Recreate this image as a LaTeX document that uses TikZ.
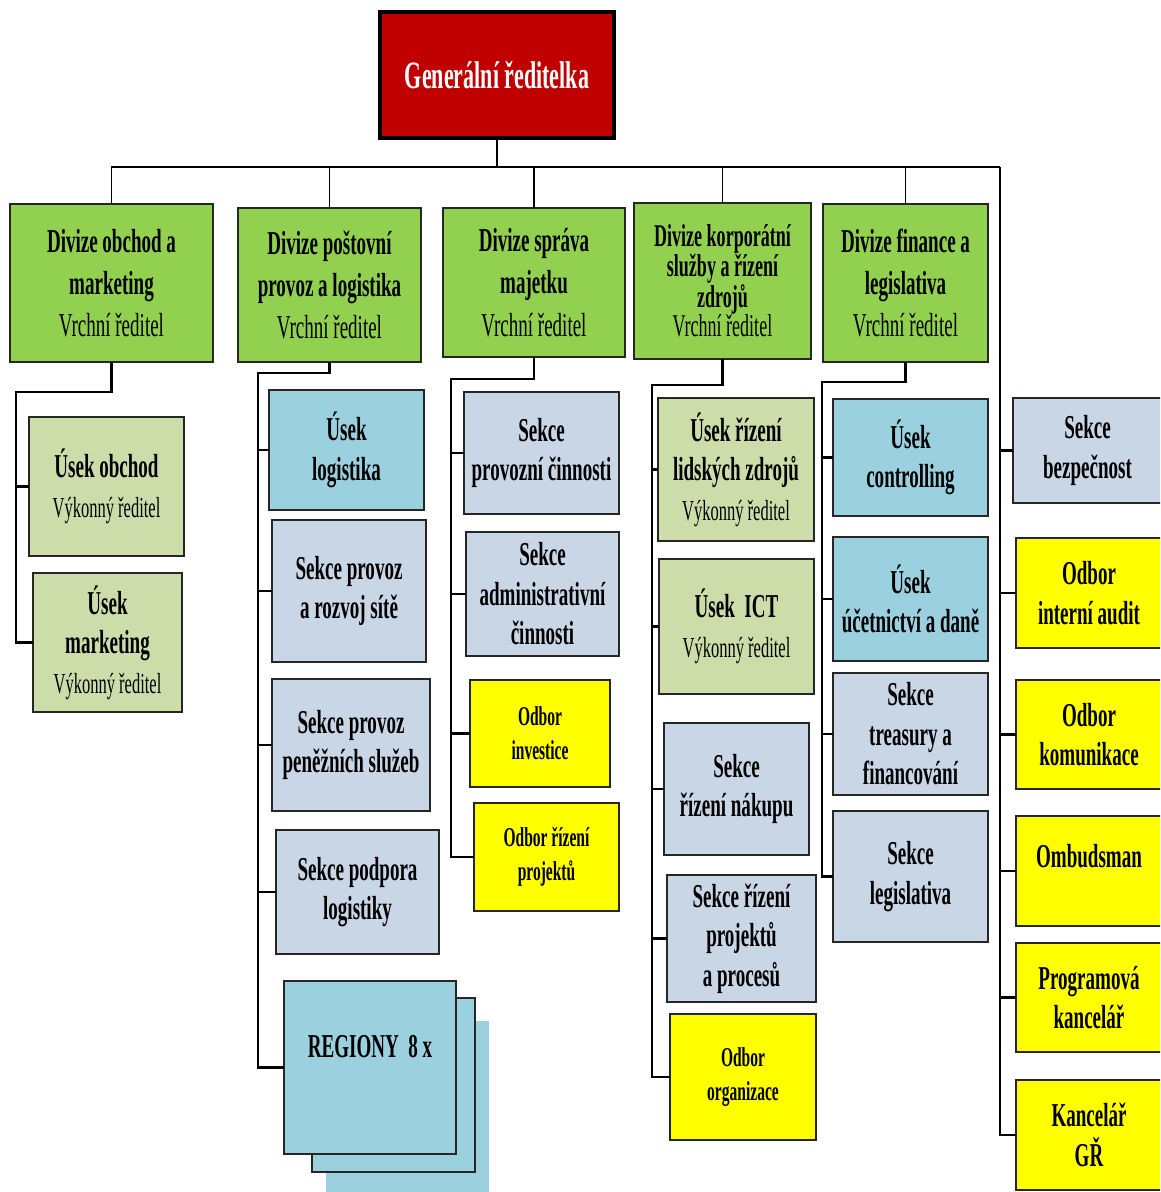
\documentclass[tikz,border=0pt]{standalone}
\usepackage{fontspec}
\setmainfont{Liberation Serif}[FakeStretch=0.57]
\usetikzlibrary{calc}

\definecolor{grred}{RGB}{192,0,0}
\definecolor{divgreen}{RGB}{146,208,80}
\definecolor{usekolive}{RGB}{205,221,170}
\definecolor{usekblue}{RGB}{155,208,222}
\definecolor{sekcegrey}{RGB}{200,214,230}
\definecolor{odboryellow}{RGB}{255,255,0}

\newcommand{\vrchni}{{\mdseries Vrchní ředitel}}
\newcommand{\vykonny}{{\fontsize{16.5}{20}\selectfont\mdseries Výkonný ředitel}}

\begin{document}
\begin{tikzpicture}[x=0.02cm, y=-0.02cm,
    box/.style={draw=black!85, line width=1pt, inner sep=1pt, outer sep=0pt, align=center,
        font=\fontsize{19}{22.5}\selectfont\bfseries},
    wh/.style 2 args={minimum width=#1*0.02cm, minimum height=#2*0.02cm},
    headbox/.style={box, fill=grred, draw=black, line width=2.4pt, text=white,
        font=\fontsize{22}{26}\selectfont\bfseries},
    divbox/.style={box, fill=divgreen, font=\fontsize{19}{24}\selectfont\bfseries},
    usek/.style={box, fill=usekolive},
    usekb/.style={box, fill=usekblue},
    sekce/.style={box, fill=sekcegrey},
    odbor/.style={box, fill=odboryellow},
    smallfont/.style={font=\fontsize{15.5}{19.5}\selectfont\bfseries},
    bus/.style={line width=1.6pt},
    drop/.style={line width=0.8pt},
    link/.style={line width=1.2pt}
]
\clip (0,0) rectangle (1160,1192);

% vedeni
\node[headbox, wh={234}{126}] (gr) at (497,75) {Generální ředitelka};

\node[divbox, wh={203}{158}] (d1) at (111.5,283) {Divize obchod a\\marketing\\\vrchni};
\node[divbox, wh={183}{154}] (d2) at (329.5,285) {Divize poštovní\\provoz a logistika\\\vrchni};
\node[divbox, wh={182}{149}] (d3) at (534,282.5) {Divize správa\\majetku\\\vrchni};
\node[divbox, wh={177}{156}, font=\fontsize{18}{16}\selectfont\bfseries] (d4) at (722.5,281)
    {Divize korporátní\\[-0.5pt]služby a řízení\\[-0.5pt]zdrojů\\[-0.5pt]\vrchni};
\node[divbox, wh={165}{158}] (d5) at (905.5,283) {Divize finance a\\legislativa\\\vrchni};

% divize obchod a marketing
\node[usek, wh={155}{139}] (uo) at (106.5,486.5) {Úsek obchod\\\vykonny};
\node[usek, wh={149}{139}] (um) at (107.5,642.5) {Úsek\\marketing\\\vykonny};

% divize postovni provoz a logistika
\node[usekb, wh={155}{120}] (ul) at (346.5,450) {Úsek\\logistika};
\node[sekce, wh={154}{142}] (spr) at (349,591) {Sekce provoz\\a rozvoj sítě};
\node[sekce, wh={158}{132}] (sps) at (351,745) {Sekce provoz\\peněžních služeb};
\node[sekce, wh={163}{124}] (spl) at (357.5,892) {Sekce podpora\\logistiky};
\node[usekb, draw=none, wh={163}{179}] (reg3) at (407.5,1110.5) {};
\node[usekb, wh={163}{174}] (reg2) at (393.5,1085) {};
\node[usekb, wh={172}{173}, text height=0.42cm, text depth=0.84cm] (reg) at (370,1067.5) {REGIONY\ \ 8 x};

% divize sprava majetku
\node[sekce, wh={155}{122}] (spc) at (541.5,453) {Sekce\\provozní činnosti};
\node[sekce, wh={153}{124}] (sac) at (542.5,594) {Sekce\\administrativní\\činnosti};
\node[odbor, smallfont, wh={140}{107}] (oi) at (540,733.5) {Odbor\\investice};
\node[odbor, smallfont, wh={145}{108}] (orp) at (546.5,857) {Odbor řízení\\projektů};

% divize korporatni sluzby
\node[usek, wh={156}{143}] (ulz) at (736,469.5) {Úsek řízení\\lidských zdrojů\\\vykonny};
\node[usek, wh={155}{135}] (uict) at (736.5,626.5) {Úsek\ \ ICT\\\vykonny};
\node[sekce, wh={145}{132}] (srn) at (736.5,789) {Sekce\\řízení nákupu};
\node[sekce, wh={149}{127}] (srp) at (741.5,938.5) {Sekce řízení\\projektů\\a procesů};
\node[odbor, smallfont, wh={146}{126}] (oo) at (743,1077) {Odbor\\organizace};

% divize finance a legislativa
\node[usekb, wh={155}{117}] (uc) at (910.5,457.5) {Úsek\\controlling};
\node[usekb, wh={155}{124}] (uud) at (910.5,599) {Úsek\\účetnictví a daně};
\node[sekce, wh={155}{122}] (stf) at (910.5,734) {Sekce\\treasury a\\financování};
\node[sekce, wh={155}{131}] (sl) at (910.5,876.5) {Sekce\\legislativa};

% primo pod GR
\node[sekce, wh={149}{105}] (sb) at (1087.5,450.5) {Sekce\\bezpečnost};
\node[odbor, wh={146}{110}] (oia) at (1089,593) {Odbor\\interní audit};
\node[odbor, wh={146}{109}] (ok) at (1089,734.5) {Odbor\\komunikace};
\node[odbor, wh={146}{110}, text height=0.42cm, text depth=0.58cm] (omb) at (1089,871) {Ombudsman};
\node[odbor, wh={146}{109}] (pk) at (1089,997.5) {Programová\\kancelář};
\node[odbor, wh={146}{110}] (kgr) at (1089,1135) {Kancelář\\GŘ};

% spojnice
\coordinate (busL) at (111,167);
\coordinate (busR) at (1000,167);
\draw[bus] (gr.south) -- (gr.south |- busL);
\draw[bus] (busL) -- (busR);
\foreach \d in {d1,d2,d3,d4,d5}
    \draw[drop] (\d.north) -- (\d.north |- busL);
\draw[link] (busR) |- (kgr.west);
\foreach \n in {sb,oia,ok,omb,pk}
    \draw[link] (busR |- \n.west) -- (\n.west);

\coordinate (c1) at (16,392);
\draw[link] (d1.south) |- (c1) |- (um.west);
\draw[link] (c1 |- uo.west) -- (uo.west);

\coordinate (c2) at (258,373);
\draw[link] (d2.south) |- (c2) |- (reg.west);
\foreach \n in {ul,spr,sps,spl}
    \draw[link] (c2 |- \n.west) -- (\n.west);

\coordinate (c3) at (451,379);
\draw[link] (d3.south) |- (c3) |- (orp.west);
\foreach \n in {spc,sac,oi}
    \draw[link] (c3 |- \n.west) -- (\n.west);

\coordinate (c4) at (652,385);
\draw[link] (d4.south) |- (c4) |- (oo.west);
\foreach \n in {ulz,uict,srn,srp}
    \draw[link] (c4 |- \n.west) -- (\n.west);

\coordinate (c5) at (822,382);
\draw[link] (d5.south) |- (c5) |- (sl.west);
\foreach \n in {uc,uud,stf}
    \draw[link] (c5 |- \n.west) -- (\n.west);
\end{tikzpicture}
\end{document}
